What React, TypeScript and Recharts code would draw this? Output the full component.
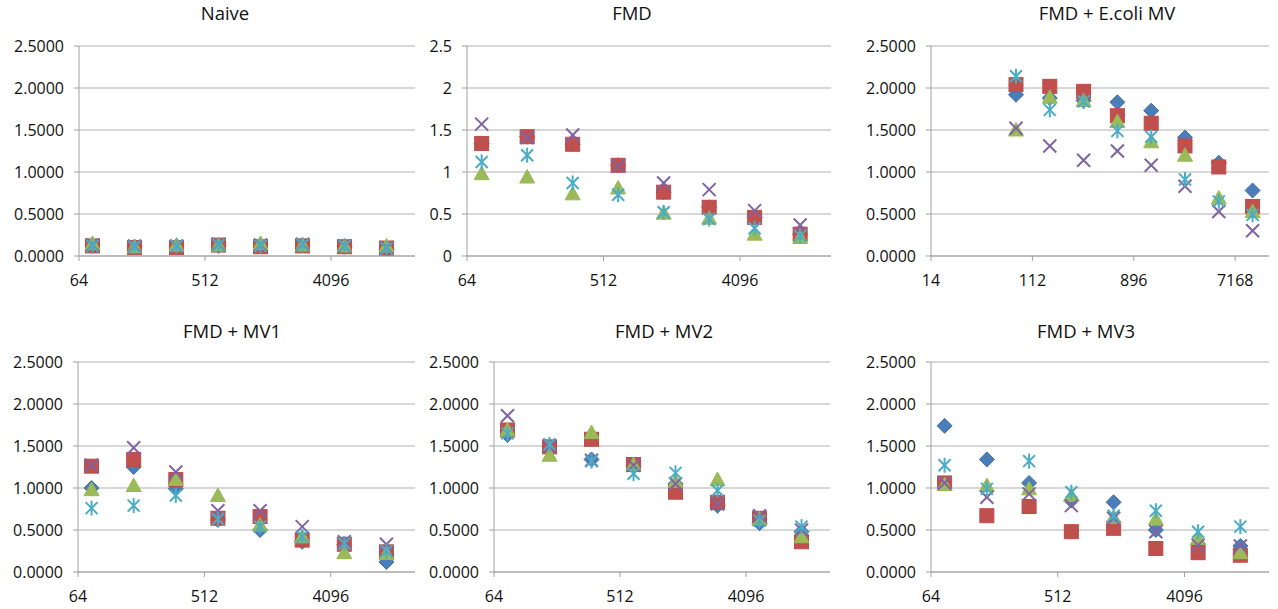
import React from 'react'
import { ScatterChart, Scatter, XAxis, YAxis, CartesianGrid } from 'recharts'

// serum dilutions (x), shared by every panel
const dilutions = [80, 160, 320, 640, 1280, 2560, 5120, 10240]
const xTicks = [64, 512, 4096]
const xTicksEcoli = [14, 112, 896, 7168]
const yTicks = [0, 0.5, 1, 1.5, 2, 2.5]

// Naive
const naiveBlue = [0.12, 0.11, 0.12, 0.12, 0.12, 0.13, 0.11, 0.08]
const naiveRed = [0.12, 0.1, 0.1, 0.13, 0.11, 0.12, 0.11, 0.095]
const naiveGreen = [0.15, 0.11, 0.13, 0.13, 0.15, 0.13, 0.12, 0.12]
const naivePurple = [0.13, 0.12, 0.12, 0.14, 0.13, 0.14, 0.12, 0.1]
const naiveCyan = [0.12, 0.11, 0.12, 0.13, 0.12, 0.13, 0.12, 0.09]

// FMD
const fmdBlue = [1.34, 1.42, 1.33, 1.08, 0.76, 0.58, 0.46, 0.26]
const fmdRed = [1.34, 1.42, 1.33, 1.08, 0.76, 0.58, 0.46, 0.26]
const fmdGreen = [0.98, 0.94, 0.74, 0.81, 0.51, 0.45, 0.26, 0.22]
const fmdPurple = [1.57, 1.41, 1.44, 1.07, 0.87, 0.79, 0.54, 0.37]
const fmdCyan = [1.12, 1.2, 0.87, 0.73, 0.52, 0.44, 0.33, 0.24]

// FMD + E.coli MV
const ecoliBlue = [1.92, 1.88, 1.85, 1.83, 1.73, 1.41, 1.11, 0.78]
const ecoliRed = [2.04, 2.02, 1.96, 1.67, 1.58, 1.31, 1.06, 0.59]
const ecoliGreen = [1.5, 1.89, 1.85, 1.6, 1.36, 1.2, 0.69, 0.53]
const ecoliPurple = [1.52, 1.31, 1.14, 1.25, 1.08, 0.83, 0.53, 0.3]
const ecoliCyan = [2.14, 1.74, 1.84, 1.49, 1.42, 0.91, 0.65, 0.49]

// FMD + MV1
const mv1Blue = [1.0, 1.25, 0.99, 0.62, 0.5, 0.36, 0.33, 0.12]
const mv1Red = [1.26, 1.34, 1.1, 0.64, 0.66, 0.38, 0.33, 0.24]
const mv1Green = [0.98, 1.03, 1.1, 0.91, 0.56, 0.42, 0.23, 0.22]
const mv1Purple = [1.27, 1.48, 1.19, 0.73, 0.73, 0.54, 0.36, 0.33]
const mv1Cyan = [0.76, 0.79, 0.91, 0.63, 0.54, 0.42, 0.34, 0.25]

// FMD + MV2
const mv2Blue = [1.63, 1.49, 1.34, 1.27, 1.05, 0.79, 0.58, 0.48]
const mv2Red = [1.69, 1.49, 1.58, 1.28, 0.95, 0.83, 0.64, 0.36]
const mv2Green = [1.69, 1.39, 1.66, 1.28, 1.08, 1.1, 0.63, 0.42]
const mv2Purple = [1.86, 1.5, 1.33, 1.27, 1.05, 0.81, 0.67, 0.5]
const mv2Cyan = [1.65, 1.52, 1.32, 1.17, 1.18, 0.97, 0.61, 0.54]

// FMD + MV3
const mv3Blue = [1.74, 1.34, 1.06, 0.85, 0.83, 0.5, 0.33, 0.31]
const mv3Red = [1.06, 0.67, 0.78, 0.48, 0.52, 0.28, 0.23, 0.2]
const mv3Green = [1.04, 1.03, 0.99, 0.91, 0.65, 0.63, 0.4, 0.23]
const mv3Purple = [1.06, 0.89, 0.93, 0.79, 0.64, 0.48, 0.32, 0.31]
const mv3Cyan = [1.27, 0.99, 1.32, 0.95, 0.67, 0.73, 0.48, 0.54]

const FONT = '"Open Sans", sans-serif'
const TEXT = '#111'
const GRID = '#b0b0b0'
const AXIS = '#a0a0a0'

const Diamond = ({ cx, cy }: any) => (
  <polygon
    points={`${cx},${cy - 7.5} ${cx + 7.5},${cy} ${cx},${cy + 7.5} ${cx - 7.5},${cy}`}
    fill="#4A7EBB"
    stroke="#41719C"
    strokeWidth={1}
  />
)

const Square = ({ cx, cy }: any) => (
  <rect x={cx - 7} y={cy - 7} width={14} height={14} fill="#C0504D" stroke="#BE4B48" strokeWidth={1} />
)

const Triangle = ({ cx, cy }: any) => (
  <polygon
    points={`${cx},${cy - 7.5} ${cx + 7.5},${cy + 6} ${cx - 7.5},${cy + 6}`}
    fill="#9BBB59"
    stroke="#98B954"
    strokeWidth={1}
  />
)

const Cross = ({ cx, cy }: any) => (
  <g stroke="#8064A2" strokeWidth={2}>
    <line x1={cx - 6.5} y1={cy - 6.5} x2={cx + 6.5} y2={cy + 6.5} />
    <line x1={cx - 6.5} y1={cy + 6.5} x2={cx + 6.5} y2={cy - 6.5} />
  </g>
)

const Star = ({ cx, cy }: any) => (
  <g stroke="#4BACC6" strokeWidth={2}>
    <line x1={cx - 6} y1={cy - 6} x2={cx + 6} y2={cy + 6} />
    <line x1={cx - 6} y1={cy + 6} x2={cx + 6} y2={cy - 6} />
    <line x1={cx} y1={cy - 7.5} x2={cx} y2={cy + 7.5} />
  </g>
)

const toPoints = (values: number[]) => dilutions.map((x, i) => ({ x, y: values[i] }))

const fmt4 = (v: number) => v.toFixed(4)
const fmtPlain = (v: number) => String(v)

interface PanelProps {
  title: string
  series: number[][]
  left: number
  top: number
  height: number
  plotTop: number
  axisHeight: number
  yWidth: number
  right: number
  titleX: number
  titleY: number
  labelGap: number
  xDomain: [number, number]
  ticks: number[]
  yFormat: (v: number) => string
}

const shapes = [Diamond, Square, Triangle, Cross, Star]

function Panel(p: PanelProps) {
  return (
    <div style={{ position: 'absolute', left: p.left, top: p.top, width: 426, height: p.height }}>
      <div
        style={{
          position: 'absolute',
          left: p.titleX - p.left - 150,
          top: p.titleY - p.top,
          width: 300,
          textAlign: 'center',
          fontFamily: FONT,
          fontSize: 18.5,
          lineHeight: 1,
          color: TEXT
        }}
      >
        {p.title}
      </div>
      <ScatterChart
        width={426}
        height={p.height}
        margin={{ top: p.plotTop, right: p.right, bottom: 0, left: 0 }}
      >
        <CartesianGrid horizontal vertical={false} stroke={GRID} />
        <XAxis
          type="number"
          dataKey="x"
          scale="log"
          domain={p.xDomain}
          ticks={p.ticks}
          interval={0}
          allowDataOverflow
          height={p.axisHeight}
          tickSize={5}
          tickMargin={p.labelGap}
          axisLine={{ stroke: AXIS }}
          tickLine={{ stroke: AXIS }}
          tick={{ fill: TEXT, fontSize: 16, fontFamily: FONT }}
        />
        <YAxis
          type="number"
          dataKey="y"
          domain={[0, 2.5]}
          ticks={yTicks}
          interval={0}
          allowDataOverflow
          width={p.yWidth}
          tickSize={5}
          tickMargin={10}
          tickFormatter={p.yFormat}
          axisLine={{ stroke: AXIS }}
          tickLine={{ stroke: AXIS }}
          tick={{ fill: TEXT, fontSize: 16, fontFamily: FONT }}
        />
        {p.series.map((values, i) => {
          const Shape = shapes[i]
          return (
            <Scatter
              key={i}
              data={toPoints(values)}
              isAnimationActive={false}
              shape={(s: any) => <Shape cx={s.cx} cy={s.cy} />}
            />
          )
        })}
      </ScatterChart>
    </div>
  )
}

export default function App() {
  const topRow = { top: 0, height: 300, plotTop: 46, axisHeight: 44, titleY: 4, labelGap: 14 }
  const bottomRow = { top: 305, height: 304, plotTop: 57, axisHeight: 37, titleY: 322, labelGap: 14 }
  return (
    <div style={{ position: 'absolute', left: 0, top: 0, width: 1278, height: 609, background: '#fff' }}>
      <Panel
        {...topRow}
        title="Naive"
        series={[naiveBlue, naiveRed, naiveGreen, naivePurple, naiveCyan]}
        left={0}
        yWidth={79}
        right={11}
        titleX={225}
        xDomain={[64, 16384]}
        ticks={xTicks}
        yFormat={fmt4}
      />
      <Panel
        {...topRow}
        title="FMD"
        series={[fmdBlue, fmdRed, fmdGreen, fmdPurple, fmdCyan]}
        left={426}
        yWidth={41}
        right={21}
        titleX={632}
        xDomain={[64, 16384]}
        ticks={xTicks}
        yFormat={fmtPlain}
      />
      <Panel
        {...topRow}
        title="FMD + E.coli MV"
        series={[ecoliBlue, ecoliRed, ecoliGreen, ecoliPurple, ecoliCyan]}
        left={852}
        yWidth={79}
        right={9}
        titleX={1107}
        xDomain={[14, 14336]}
        ticks={xTicksEcoli}
        yFormat={fmt4}
      />
      <Panel
        {...bottomRow}
        title="FMD + MV1"
        series={[mv1Blue, mv1Red, mv1Green, mv1Purple, mv1Cyan]}
        left={0}
        yWidth={78}
        right={11}
        titleX={232}
        xDomain={[64, 16384]}
        ticks={xTicks}
        yFormat={fmt4}
      />
      <Panel
        {...bottomRow}
        title="FMD + MV2"
        series={[mv2Blue, mv2Red, mv2Green, mv2Purple, mv2Cyan]}
        left={426}
        yWidth={68}
        right={22}
        titleX={664}
        xDomain={[64, 16384]}
        ticks={xTicks}
        yFormat={fmt4}
      />
      <Panel
        {...bottomRow}
        title="FMD + MV3"
        series={[mv3Blue, mv3Red, mv3Green, mv3Purple, mv3Cyan]}
        left={852}
        yWidth={79}
        right={9}
        titleX={1086}
        xDomain={[64, 16384]}
        ticks={xTicks}
        yFormat={fmt4}
      />
    </div>
  )
}
